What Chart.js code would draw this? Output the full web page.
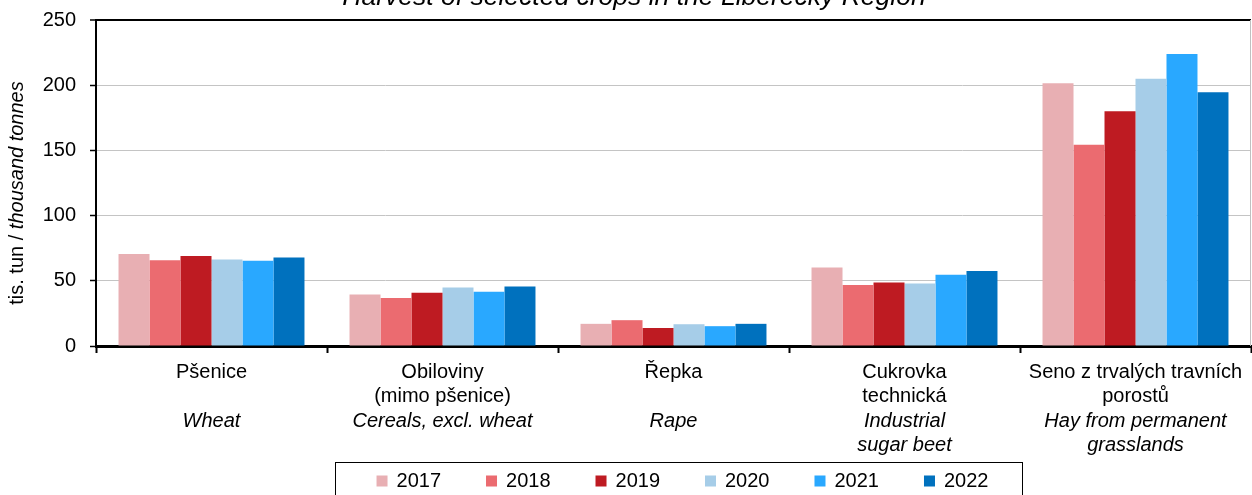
<!DOCTYPE html>
<html>
<head>
<meta charset="utf-8">
<script src="https://cdn.jsdelivr.net/npm/chart.js@4.4.1/dist/chart.umd.min.js"></script>
<style>
  html, body { margin: 0; padding: 0; background: #fff; }
  #wrap { position: relative; width: 1252px; height: 495px; }
</style>
</head>
<body>
<div id="wrap"><canvas id="cropChart"></canvas></div>
<script>
// Popisky kategorii (cesky / anglicky)
const categoriesCz = [['Pšenice'], ['Obiloviny', '(mimo pšenice)'], ['Řepka'], ['Cukrovka', 'technická'], ['Seno z trvalých travních', 'porostů']];
const categoriesEn = [['Wheat'], ['Cereals, excl. wheat'], ['Rape'], ['Industrial', 'sugar beet'], ['Hay from permanent', 'grasslands']];
const years = ['2017', '2018', '2019', '2020', '2021', '2022'];

// tis. tun
const values2017 = [70.5, 39.5, 17.0, 60.2, 201.5];
const values2018 = [65.8, 36.8, 19.8, 46.7, 154.4];
const values2019 = [69.0, 40.8, 13.8, 48.7, 180.0];
const values2020 = [66.4, 44.9, 16.7, 47.9, 205.0];
const values2021 = [65.4, 41.6, 15.2, 54.6, 224.0];
const values2022 = [67.9, 45.7, 17.0, 57.5, 194.6];

const yMin = 0;
const yMax = 250;
const yStep = 50;

const chartTitle = 'Harvest of selected crops in the Liberecký Region';
const yTitleCz = 'tis. tun / ';
const yTitleEn = 'thousand tonnes';

const colors = ['#e8afb3', '#eb6b70', '#be1b22', '#a6cde8', '#29a8ff', '#0071be'];
const FONT = '"Liberation Sans", Arial, sans-serif';

const seriesValues = [values2017, values2018, values2019, values2020, values2021, values2022];

const ctx = document.getElementById('cropChart').getContext('2d');

// Vlastni texty: titulek, popisek osy Y, popisky kategorii, legenda
const extraText = {
  id: 'extraText',
  afterDraw(chart) {
    const c = chart.ctx;
    const area = chart.chartArea;
    const xScale = chart.scales.x;
    c.save();
    c.fillStyle = '#000';

    // titulek (horni cast je oriznuta)
    c.font = 'italic 26.5px ' + FONT;
    c.textAlign = 'center';
    c.textBaseline = 'alphabetic';
    c.fillText(chartTitle, 634, 5);

    // pravy okraj plochy grafu
    c.strokeStyle = '#c0c0c0';
    c.lineWidth = 1;
    c.beginPath();
    c.moveTo(area.right - 0.5, area.top);
    c.lineTo(area.right - 0.5, area.bottom);
    c.stroke();

    // popisek osy Y
    c.save();
    c.translate(17, 193);
    c.rotate(-Math.PI / 2);
    c.textBaseline = 'middle';
    c.textAlign = 'left';
    c.font = '20px ' + FONT;
    const w1 = c.measureText(yTitleCz).width;
    c.font = 'italic 20px ' + FONT;
    const w2 = c.measureText(yTitleEn).width;
    const start = -(w1 + w2) / 2;
    c.font = '20px ' + FONT;
    c.fillText(yTitleCz, start, 0);
    c.font = 'italic 20px ' + FONT;
    c.fillText(yTitleEn, start + w1, 0);
    c.restore();

    // popisky kategorii
    c.textAlign = 'center';
    c.textBaseline = 'middle';
    categoriesCz.forEach((lines, i) => {
      const x = xScale.getPixelForValue(i);
      c.font = '20px ' + FONT;
      lines.forEach((t, k) => c.fillText(t, x, 372 + k * 24.5));
      c.font = 'italic 20px ' + FONT;
      categoriesEn[i].forEach((t, k) => c.fillText(t, x, 421 + k * 24.5));
    });

    // legenda v ramecku
    const box = { left: 335, top: 462, right: 1022, bottom: 510 };
    c.strokeStyle = '#000';
    c.lineWidth = 1;
    c.strokeRect(box.left + 0.5, box.top + 0.5, box.right - box.left, box.bottom - box.top);
    c.font = '20px ' + FONT;
    const marker = 11, gap = 9, spacing = 45;
    const widths = years.map((y) => marker + gap + c.measureText(y).width);
    const total = widths.reduce((a, b) => a + b, 0) + spacing * (years.length - 1);
    let lx = (box.left + box.right) / 2 - total / 2 + 4;
    const ly = 481;
    c.textAlign = 'left';
    years.forEach((y, i) => {
      c.fillStyle = colors[i];
      c.fillRect(lx, ly - marker / 2, marker, marker);
      c.fillStyle = '#000';
      c.fillText(y, lx + marker + gap, ly);
      lx += widths[i] + spacing;
    });

    c.restore();
  }
};

new Chart(ctx, {
  type: 'bar',
  data: {
    labels: categoriesEn.map((l) => l.join(' ')),
    datasets: years.map((y, i) => ({
      label: y,
      data: seriesValues[i],
      backgroundColor: colors[i],
      borderWidth: 0,
      categoryPercentage: 0.805,
      barPercentage: 1.0,
    })),
  },
  options: {
    responsive: true,
    maintainAspectRatio: false,
    animation: false,
    layout: {
      padding: { top: 20, right: 1, left: 0, bottom: 0 },
    },
    plugins: {
      legend: { display: false },
      title: { display: false },
      tooltip: { enabled: false },
    },
    scales: {
      x: {
        ticks: { display: false },
        grid: {
          offset: true,
          drawOnChartArea: false,
          drawTicks: true,
          tickLength: 7,
          tickColor: '#000',
          tickWidth: 2,
        },
        border: { display: true, color: '#000', width: 3 },
        afterFit: (scale) => { scale.height = 149; },
      },
      y: {
        min: yMin,
        max: yMax,
        ticks: {
          stepSize: yStep,
          color: '#000',
          padding: 14,
          font: { family: FONT, size: 20 },
        },
        grid: {
          color: (c) => (c.tick && c.tick.value === yMax ? '#000' : '#c4c4c4'),
          lineWidth: (c) => (c.tick && c.tick.value === yMax ? 2 : 1),
          tickColor: '#000',
          tickLength: 6,
          tickWidth: 1.5,
        },
        border: { display: true, color: '#000', width: 2 },
        afterFit: (scale) => {
          scale.width = 96;
          // popisky nesmi posouvat horni okraj plochy grafu
          scale.paddingTop = 10;
          scale.paddingBottom = 10;
        },
      },
    },
  },
  plugins: [extraText],
});
</script>
</body>
</html>
